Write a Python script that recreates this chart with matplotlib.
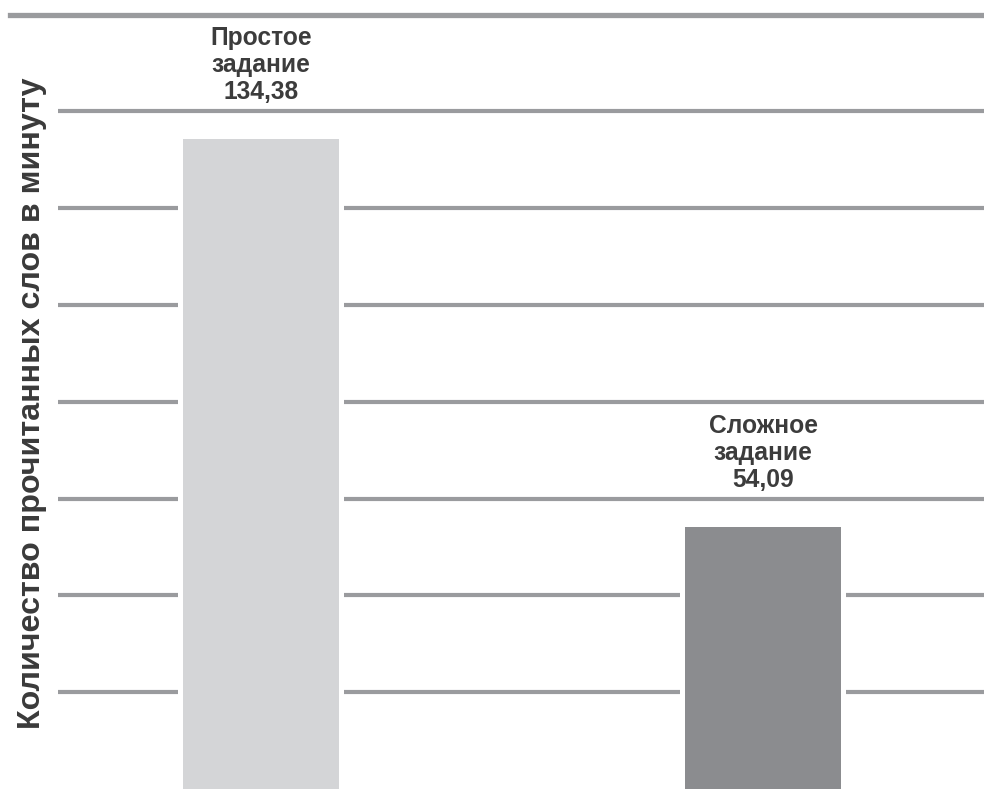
import matplotlib
matplotlib.use("Agg")
import matplotlib.pyplot as plt
from matplotlib.lines import Line2D

plt.rcParams['font.family'] = ['Liberation Sans', 'DejaVu Sans']

categories = ["Простое\nзадание", "Сложное\nзадание"]
values = [134.38, 54.09]
value_labels = ["134,38", "54,09"]
bar_colors = ["#d4d5d7", "#8b8c8f"]
yticks = [20, 40, 60, 80, 100, 120, 140]
ylabel = "Количество прочитанных слов в минуту"

fig = plt.figure(figsize=(9.84, 7.89), dpi=100)
ax = fig.add_axes([58/984, 0.0, 1 - 58/984, 1 - 14.5/789])

ax.set_ylim(0, 160)
ax.set_xlim(-0.404, 1.44)

for y in yticks:
    ax.axhline(y, color="#9a9b9e", lw=3, zorder=1)

xs = list(range(len(values)))
# white gap behind bars
ax.bar(xs, values, width=0.330, color="white", linewidth=0, zorder=2)
ax.bar(xs, values, width=0.312, color=bar_colors, linewidth=0, zorder=3)

for x, v, cat, lab in zip(xs, values, categories, value_labels):
    ax.annotate(cat + "\n" + lab, xy=(x, v), xytext=(0, 25),
                textcoords="offset points", ha="center", va="bottom",
                fontsize=17.7, fontweight="bold", color="#3c3c3c",
                linespacing=1.16)

for s in ax.spines.values():
    s.set_visible(False)
ax.set_xticks([])
ax.set_yticks([])

# top rule
fig.add_artist(Line2D([10/984, 1.0], [1 - 14.5/789, 1 - 14.5/789],
                      color="#9a9b9e", lw=3.8, transform=fig.transFigure))

fig.text(32/984, 1 - 403/789, ylabel, rotation=90, ha="center", va="center",
         fontsize=23.2, fontweight="bold", color="#3a3a3a")

fig.savefig("out.png", dpi=100)
